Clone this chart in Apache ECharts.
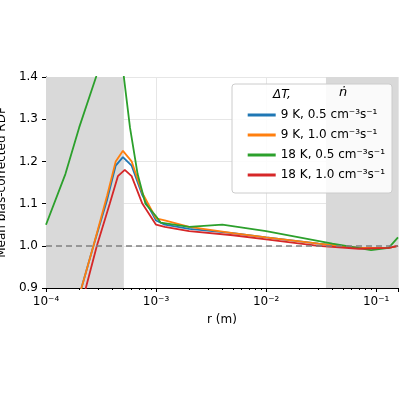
<!DOCTYPE html><html><head><meta charset="utf-8"><script src="https://cdn.jsdelivr.net/npm/echarts@6/dist/echarts.min.js"></script></head><body style="margin:0"><div id="c" style="width:400px;height:400px"></div><script>
const names=['9 K, 0.5 cm⁻³s⁻¹','9 K, 1.0 cm⁻³s⁻¹','18 K, 0.5 cm⁻³s⁻¹','18 K, 1.0 cm⁻³s⁻¹'];
const colors=['#1f77b4','#ff7f0e','#2ca02c','#d62728'];
const blueX=[1.9e-4,2.1e-4,2.7e-4,3.6e-4,4.3e-4,5e-4,6e-4,7.5e-4,1e-3,1.2e-3,2e-3,5e-3,1e-2,3e-2,7e-2,0.13,0.158];
const blueY=[0.85,0.9,1.0,1.11,1.19,1.21,1.19,1.12,1.06,1.05,1.04,1.03,1.02,1.005,0.995,0.995,1.0];
const orangeX=[1.9e-4,2.1e-4,2.7e-4,3.6e-4,4.3e-4,5e-4,6e-4,7.5e-4,1e-3,1.2e-3,2e-3,5e-3,1e-2,3e-2,7e-2,0.13,0.158];
const orangeY=[0.86,0.9,1.0,1.12,1.2,1.225,1.2,1.125,1.065,1.06,1.045,1.03,1.02,1.005,0.995,0.995,1.0];
const greenX=[1e-4,1.5e-4,2e-4,2.85e-4,3.5e-4,4.5e-4,5.1e-4,5.8e-4,6.8e-4,8e-4,1e-3,1.1e-3,2e-3,4e-3,1e-2,4e-2,9e-2,0.13,0.158];
const greenY=[1.05,1.17,1.28,1.4,1.5,1.55,1.4,1.28,1.17,1.1,1.07,1.055,1.045,1.05,1.035,1.005,0.99,0.995,1.02];
const redX=[2.1e-4,2.3e-4,2.9e-4,3.8e-4,4.5e-4,5.2e-4,6e-4,7.5e-4,1e-3,1.2e-3,2e-3,5e-3,1e-2,3e-2,7e-2,0.13,0.158];
const redY=[0.85,0.9,1.0,1.1,1.165,1.18,1.165,1.1,1.05,1.045,1.035,1.025,1.015,1.0,0.993,0.995,1.0];
const xs=[blueX,orangeX,greenX,redX], ys=[blueY,orangeY,greenY,redY];
const sup={'-':'⁻','0':'⁰','1':'¹','2':'²','3':'³','4':'⁴'};
const c=echarts.init(document.getElementById('c'));
const series=names.map((n,i)=>({name:n,type:'line',showSymbol:false,symbol:'none',data:xs[i].map((x,j)=>[x,ys[i][j]]),lineStyle:{width:1.8,color:colors[i]},itemStyle:{color:colors[i]},z:3}));
series.unshift({type:'line',data:[],markArea:{silent:true,itemStyle:{color:'#d9d9d9'},data:[[{xAxis:1e-4},{xAxis:5.1e-4}],[{xAxis:0.035},{xAxis:0.158}]]},markLine:{silent:true,symbol:'none',label:{show:false},lineStyle:{color:'#808080',type:[6,4],width:1.5},data:[{yAxis:1.0}]},z:2});
const F='DejaVu Sans';
c.setOption({animation:false,
grid:{left:46,right:2,top:77,bottom:112,containLabel:false,outerBoundsMode:'none'},
xAxis:{type:'log',min:1e-4,max:0.158,logBase:10,
 axisLine:{onZero:false,lineStyle:{color:'#000'}},axisTick:{inside:false,length:4,lineStyle:{color:'#000'}},
 minorTick:{show:true,splitNumber:9,length:2,lineStyle:{color:'#000'}},
 axisLabel:{color:'#000',fontSize:12,fontFamily:F,formatter:v=>{const e=Math.round(Math.log10(v));return '10'+String(e).split('').map(ch=>sup[ch]).join('');}},
 splitLine:{show:true,lineStyle:{color:'#e6e6e6'}},
 name:'r (m)',nameLocation:'middle',nameGap:26,nameTextStyle:{color:'#000',fontSize:12,fontFamily:F}},
yAxis:{type:'value',min:0.9,max:1.4,interval:0.1,
 axisLine:{show:true,lineStyle:{color:'#000'}},axisTick:{show:true,length:4,lineStyle:{color:'#000'}},
 axisLabel:{color:'#000',fontSize:12,fontFamily:F,formatter:v=>v.toFixed(1)},
 splitLine:{show:true,lineStyle:{color:'#e6e6e6'}},
 name:'Mean bias-corrected RDF',nameLocation:'middle',nameGap:32,nameTextStyle:{color:'#000',fontSize:12,fontFamily:F}},
legend:{data:names,orient:'vertical',right:10,top:104,itemWidth:28,itemHeight:3,itemGap:8,icon:'rect',z:20,textStyle:{color:'#000',fontSize:12,fontFamily:F}},
graphic:[{type:'rect',shape:{x:232,y:84,width:160,height:109,r:3},style:{fill:'rgba(255,255,255,0.85)',stroke:'#ccc'},z:10},
{type:'text',left:273,top:89,style:{text:'ΔT,',font:'italic 12px DejaVu Sans',fill:'#000'},z:11},
{type:'text',left:339,top:86,style:{text:'ṅ',font:'italic 13px DejaVu Sans',fill:'#000'},z:11}],
series});
</script></body></html>
